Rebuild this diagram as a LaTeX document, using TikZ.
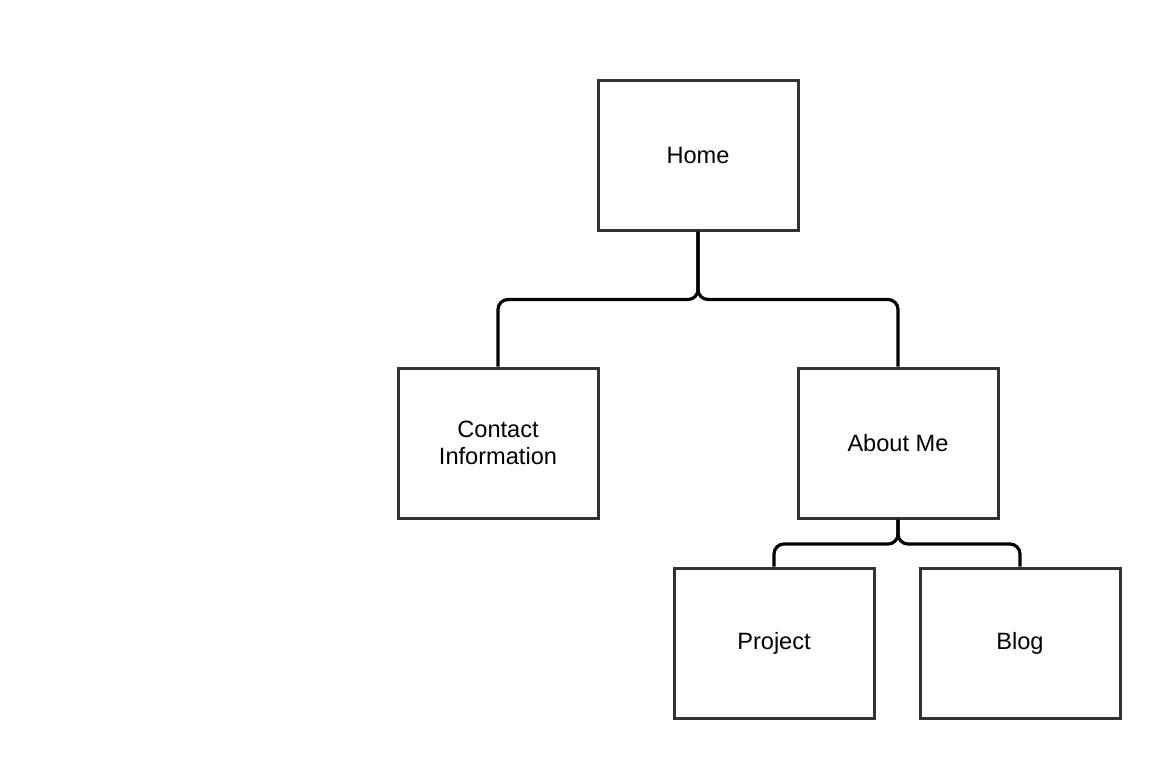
\documentclass[tikz,border=0pt]{standalone}
\usepackage{fontspec}
\setmainfont{Liberation Sans}
\definecolor{boxline}{HTML}{333333}
\begin{document}
\begin{tikzpicture}[x=1pt,y=-1pt,
  pagebox/.style={draw=boxline,line width=3pt,fill=white,minimum width=200pt,minimum height=150pt,inner sep=0pt,align=center,font=\fontsize{23.6}{27.5}\selectfont},
  link/.style={draw=black,line width=3.2pt,rounded corners=10pt}]
\useasboundingbox (0,0) rectangle (1172,758);
\node[pagebox] (home) at (698,155) {Home};
\node[pagebox] (contact) at (498,443) {Contact\\Information};
\node[pagebox] (about) at (898,443) {About Me};
\node[pagebox] (project) at (774,643) {Project};
\node[pagebox] (blog) at (1020,643) {Blog};
\draw[link] (home.south) -- ++(0,68) -| (contact.north);
\draw[link] (home.south) -- ++(0,68) -| (about.north);
\draw[link] (about.south) -- ++(0,24.5) -| (project.north);
\draw[link] (about.south) -- ++(0,24.5) -| (blog.north);
\end{tikzpicture}
\end{document}
